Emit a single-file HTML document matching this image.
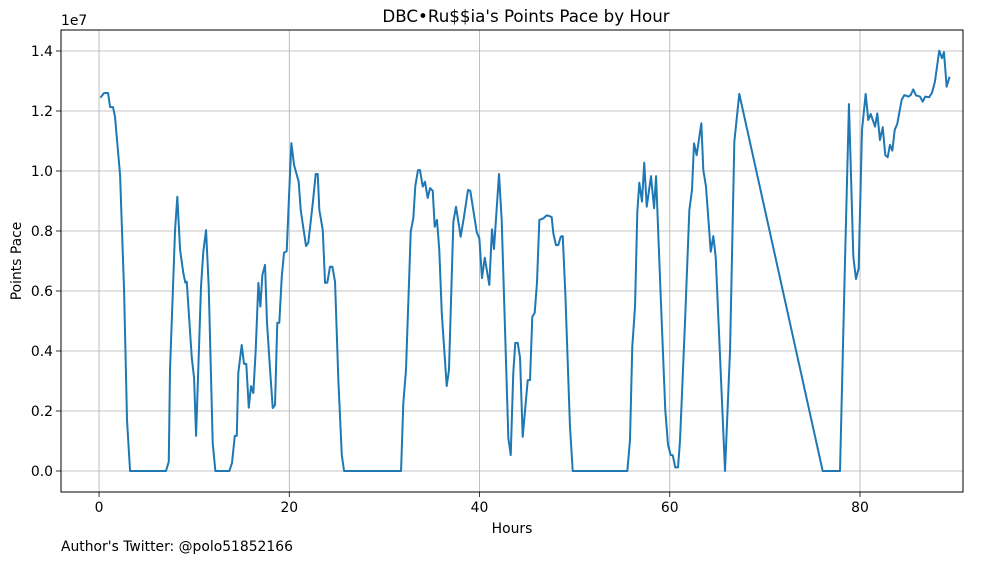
<!DOCTYPE html>
<html><head><meta charset="utf-8">
<style>
html,body{margin:0;padding:0;background:#fff;}
svg{display:block;font-family:"DejaVu Sans","Liberation Sans",sans-serif;}
</style></head>
<body>
<svg id="chart" width="1001" height="562" viewBox="0 0 1001 562" xmlns="http://www.w3.org/2000/svg">
<rect x="0" y="0" width="1001" height="562" fill="#fff"/>
<g id="grid"></g>
<g id="series"></g>
<rect x="61" y="30" width="902" height="462" fill="none" stroke="#000" stroke-width="1"/>
<g id="ticks"></g>
<text x="526" y="22" text-anchor="middle" font-size="16.7" fill="#000">DBC•Ru$$ia's Points Pace by Hour</text>
<text x="61" y="25" font-size="13.9" fill="#000">1e7</text>
<text x="512" y="533" text-anchor="middle" font-size="13.9" fill="#000">Hours</text>
<text transform="translate(21,261) rotate(-90)" text-anchor="middle" font-size="13.9" fill="#000">Points Pace</text>
<text x="61" y="551" font-size="13.9" fill="#000">Author's Twitter: @polo51852166</text>
</svg>
<script>
const hours = [0.21,0.53,0.95,1.16,1.47,1.68,2.21,2.63,2.94,3.26,7.04,7.33,7.46,7.99,8.23,8.52,8.86,9.07,9.22,9.75,9.99,10.2,10.72,10.96,11.25,11.53,11.95,12.23,13.7,13.98,14.27,14.48,14.64,15.0,15.24,15.48,15.74,15.98,16.22,16.47,16.75,16.96,17.17,17.45,17.66,17.98,18.26,18.5,18.74,18.95,19.21,19.45,19.73,19.97,20.22,20.5,20.99,21.2,21.76,22.0,22.47,22.78,22.99,23.16,23.52,23.76,24.0,24.28,24.53,24.81,25.16,25.52,25.76,31.75,31.99,32.27,32.77,33.04,33.25,33.53,33.74,34.03,34.27,34.55,34.8,35.08,35.29,35.53,35.77,36.03,36.55,36.79,37.25,37.53,38.02,38.37,38.79,39.03,39.71,39.98,40.26,40.55,41.03,41.31,41.52,42.05,42.33,43.03,43.28,43.55,43.76,44.02,44.26,44.54,45.07,45.31,45.55,45.8,46.04,46.29,46.71,47.06,47.34,47.59,47.76,48.04,48.28,48.54,48.75,49.02,49.51,49.8,55.54,55.82,56.06,56.35,56.59,56.8,57.08,57.32,57.58,58.03,58.35,58.56,59.05,59.53,59.82,60.1,60.31,60.58,60.87,61.08,61.6,62.06,62.34,62.55,62.83,63.32,63.53,63.81,64.31,64.58,64.83,65.81,66.34,66.79,67.31,76.08,77.9,78.42,78.84,79.3,79.58,79.86,80.21,80.6,80.87,81.13,81.58,81.82,82.1,82.39,82.66,82.91,83.15,83.4,83.65,83.92,84.38,84.66,85.08,85.33,85.6,85.89,86.31,86.59,86.86,87.28,87.57,87.88,88.33,88.62,88.83,89.11,89.39];
const paceMillions = [12.47,12.6,12.6,12.13,12.13,11.8,9.87,6.03,1.7,0,0,0.31,3.37,8.03,9.14,7.37,6.6,6.28,6.31,3.77,3.1,1.17,6.14,7.31,8.03,6.14,0.93,0,0,0.27,1.17,1.17,3.27,4.2,3.57,3.57,2.11,2.83,2.6,4.03,6.27,5.48,6.53,6.87,4.93,3.37,2.1,2.2,4.94,4.94,6.48,7.28,7.33,9.14,10.93,10.2,9.64,8.7,7.5,7.61,8.93,9.9,9.9,8.7,8.03,6.27,6.28,6.81,6.81,6.31,3.03,0.53,0,0,2.27,3.37,7.98,8.43,9.5,10.03,10.03,9.48,9.64,9.1,9.43,9.34,8.14,8.37,7.37,5.27,2.83,3.37,8.31,8.81,7.81,8.48,9.37,9.34,7.96,7.76,6.43,7.11,6.2,8.06,7.4,9.9,8.37,1.1,0.53,3.27,4.27,4.27,3.77,1.14,3.03,3.03,5.14,5.27,6.27,8.37,8.42,8.52,8.5,8.46,7.92,7.53,7.53,7.81,7.83,5.93,1.48,0,0,1.03,4.14,5.48,8.64,9.61,8.98,10.28,8.81,9.83,8.76,9.83,5.81,2.03,0.87,0.53,0.53,0.12,0.12,1.03,4.93,8.7,9.37,10.92,10.53,11.59,10.03,9.48,7.31,7.83,7.14,0,4.03,10.98,12.57,0,0,6.93,12.23,7.14,6.4,6.76,11.37,12.57,11.7,11.9,11.48,11.92,11.03,11.46,10.53,10.46,10.87,10.68,11.37,11.57,12.37,12.53,12.48,12.53,12.72,12.52,12.48,12.31,12.48,12.46,12.61,12.98,14.01,13.76,13.96,12.81,13.11];
const xTicks = [0,20,40,60,80];
const yTicks = [0,2,4,6,8,10,12,14];
const yTickLabels = ["0.0","0.2","0.4","0.6","0.8","1.0","1.2","1.4"];

const NS = "http://www.w3.org/2000/svg";
const X0 = 61, X1 = 963, Y0 = 30, Y1 = 492;
const xMin = -4, xMax = 90.83, yMin = -0.7, yMax = 14.7;
function xs(h){ return X0 + (h - xMin) / (xMax - xMin) * (X1 - X0); }
function ys(v){ return Y1 - (v - yMin) / (yMax - yMin) * (Y1 - Y0); }
function mk(tag, attrs){ const e = document.createElementNS(NS, tag); for (const k in attrs) e.setAttribute(k, attrs[k]); return e; }

const grid = document.getElementById('grid');
const ticks = document.getElementById('ticks');
xTicks.forEach(t => {
  const x = xs(t);
  const g = mk('line', {x1:x, x2:x, y1:Y0, y2:Y1, stroke:'#b0b0b0', 'stroke-width':0.8});
  
  
  grid.appendChild(g);
  const tk = mk('line', {x1:x, x2:x, y1:Y1, y2:Y1+5, stroke:'#000', 'stroke-width':0.8});
  
  
  ticks.appendChild(tk);
  const lb = mk('text', {x:x, y:Y1+20, 'text-anchor':'middle', 'font-size':13.9, fill:'#000'});
  lb.textContent = String(t);
  
  
  ticks.appendChild(lb);
});
yTicks.forEach((t, i) => {
  const y = ys(t);
  const g = mk('line', {x1:X0, x2:X1, y1:y, y2:y, stroke:'#b0b0b0', 'stroke-width':0.8});
  
  
  grid.appendChild(g);
  const tk = mk('line', {x1:X0-5, x2:X0, y1:y, y2:y, stroke:'#000', 'stroke-width':0.8});
  
  
  ticks.appendChild(tk);
  const lb = mk('text', {x:X0-8, y:y+5, 'text-anchor':'end', 'font-size':13.9, fill:'#000'});
  lb.textContent = yTickLabels[i];
  
  
  ticks.appendChild(lb);
});
const pts = hours.map((h, i) => xs(h).toFixed(2) + ',' + ys(paceMillions[i]).toFixed(2)).join(' ');
const line = mk('polyline', {points:pts, fill:'none', stroke:'#1f77b4', 'stroke-width':2, 'stroke-linejoin':'round', 'stroke-linecap':'square'});


document.getElementById('series').appendChild(line);
</script>
</body></html>
